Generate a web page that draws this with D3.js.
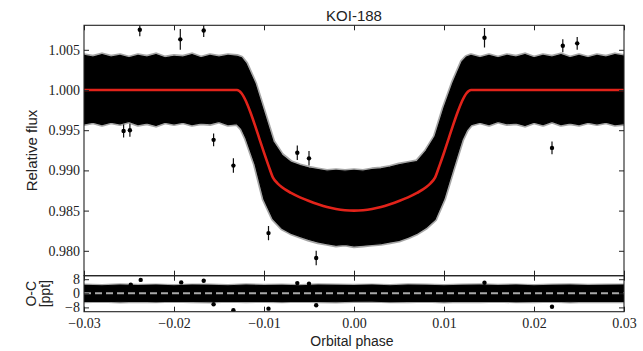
<!DOCTYPE html>
<html><head><meta charset="utf-8">
<script src="https://cdn.jsdelivr.net/npm/d3@7"></script>
<style>body{margin:0;background:#fff}svg{display:block}</style>
</head><body>
<script>
// ---------- data ----------
const title = "KOI-188";
const xTicks = [-0.03, -0.02, -0.01, 0.00, 0.01, 0.02, 0.03];
const yTicks = [0.980, 0.985, 0.990, 0.995, 1.000, 1.005];
const resTicks = [-8, 0, 8];

// envelope of the dense black band of measurements (relative flux)
const envPhase = [-0.030,-0.029,-0.028,-0.027,-0.026,-0.025,-0.024,-0.023,-0.022,-0.021,-0.020,-0.019,-0.018,-0.017,-0.016,-0.015,-0.014,-0.013,
  -0.0125,-0.012,-0.011,-0.010,-0.009,-0.008,-0.007,-0.006,-0.005,-0.004,-0.003,-0.002,-0.001,0,0.001,0.002,0.003,0.004,0.005,0.006,0.007,0.008,0.009,0.010,0.011,0.012,0.0125,
  0.013,0.014,0.015,0.016,0.017,0.018,0.019,0.020,0.021,0.022,0.023,0.024,0.025,0.026,0.027,0.028,0.029,0.030];
const envUpper = [1.0043,1.0041,1.0044,1.0041,1.0043,1.0040,1.0043,1.0041,1.0044,1.0040,1.0042,1.0041,1.0044,1.0040,1.0043,1.0041,1.0043,1.0042,
  1.0040,1.0033,1.0008,0.9972,0.9936,0.9919,0.9910,0.9906,0.9903,0.9901,0.9899,0.9900,0.9899,0.9900,0.9899,0.9901,0.9902,0.9904,0.9907,0.9909,0.9911,0.9924,0.9942,0.9978,1.0009,1.0035,1.0041,
  1.0043,1.0040,1.0043,1.0040,1.0043,1.0041,1.0044,1.0040,1.0043,1.0041,1.0044,1.0040,1.0043,1.0040,1.0043,1.0041,1.0044,1.0042];
const envLower = [0.9958,0.9960,0.9957,0.9960,0.9958,0.9961,0.9957,0.9959,0.9956,0.9960,0.9958,0.9960,0.9957,0.9959,0.9958,0.9961,0.9957,0.9958,
  0.9952,0.9940,0.9908,0.9864,0.9840,0.9828,0.9822,0.9818,0.9814,0.9811,0.9809,0.9807,0.9808,0.9806,0.9807,0.9808,0.9809,0.9811,0.9813,0.9817,0.9822,0.9829,0.9839,0.9865,0.9902,0.9938,0.9950,
  0.9957,0.9960,0.9957,0.9961,0.9958,0.9959,0.9956,0.9960,0.9957,0.9961,0.9957,0.9959,0.9957,0.9960,0.9958,0.9960,0.9957,0.9958];

// isolated points with error bars
const outPhase = [-0.0256,-0.0249,-0.0238,-0.0193,-0.0167,-0.0156,-0.0134,-0.0095,-0.0063,-0.0050,-0.0042,0.0145,0.0220,0.0232,0.0248];
const outFlux  = [0.9949,0.9950,1.0075,1.0063,1.0074,0.9938,0.9906,0.9822,0.9922,0.9915,0.9791,1.0065,0.9928,1.0055,1.0058];
const outErr   = [0.0008,0.0008,0.0008,0.0013,0.0008,0.0008,0.0009,0.0009,0.0009,0.0009,0.0009,0.0012,0.0008,0.0008,0.0008];

// transit model (red)
const modelPhase = [-0.030,-0.0130,-0.0125,-0.0120,-0.0115,-0.0110,-0.0105,-0.0100,-0.0095,-0.0090,-0.0085,-0.0080,-0.0070,-0.0060,-0.0050,-0.0040,-0.0030,-0.0020,-0.0010,0,
  0.0010,0.0020,0.0030,0.0040,0.0050,0.0060,0.0070,0.0080,0.0085,0.0090,0.0095,0.0100,0.0105,0.0110,0.0115,0.0120,0.0125,0.0130,0.030];
const modelFlux = [1.0000,1.0000,0.9996,0.9986,0.9972,0.9956,0.9939,0.9922,0.9906,0.9891,0.9884,0.9879,0.9872,0.98665,0.9862,0.9858,0.98545,0.9852,0.98505,0.9850,
  0.98505,0.9852,0.98545,0.9858,0.9862,0.98665,0.9872,0.9879,0.9884,0.9891,0.9906,0.9922,0.9939,0.9956,0.9972,0.9986,0.9996,1.0000,1.0000];

// residual band (ppt)
const resEnvPhase = [-0.030,-0.028,-0.026,-0.024,-0.022,-0.020,-0.018,-0.016,-0.014,-0.012,-0.010,-0.008,-0.006,-0.004,-0.002,0,0.002,0.004,0.006,0.008,0.010,0.012,0.014,0.016,0.018,0.020,0.022,0.024,0.026,0.028,0.030];
const resUpper = [4.5,4.3,4.7,4.4,4.6,4.3,4.6,4.5,4.3,4.7,4.4,4.5,4.3,4.7,4.5,4.4,4.6,4.3,4.7,4.5,4.3,4.5,4.7,4.4,4.6,4.3,4.5,4.7,4.4,4.5,4.6];
const resLower = [-4.6,-4.4,-4.8,-4.5,-4.7,-4.4,-4.6,-4.8,-4.4,-4.6,-4.5,-4.7,-4.4,-4.6,-4.8,-4.5,-4.4,-4.7,-4.6,-4.4,-4.8,-4.5,-4.6,-4.4,-4.7,-4.6,-4.4,-4.8,-4.5,-4.6,-4.6];
const resOutPhase = [-0.0248,-0.0237,-0.0192,-0.0167,-0.0156,-0.0134,-0.0095,-0.0063,-0.0050,-0.0042,0.0145,0.0220];
const resOutVal   = [4.9,7.6,6.2,7.1,-6.2,-9.6,-8.7,5.8,5.4,-6.8,6.0,-7.6];

// ---------- drawing ----------
const W = 643, H = 351;
const L = 84, R = 624, T1 = 25.3, B1 = 275.7, T2 = 275.7, B2 = 311.7;
const svg = d3.select("body").append("svg").attr("width", W).attr("height", H);

const x = d3.scaleLinear().domain([-0.03, 0.03]).range([L, R]);
const y = d3.scaleLinear().domain([0.976903, 1.008047]).range([B1, T1]);
const yr = d3.scaleLinear().domain([-10.44, 9.99]).range([B2, T2]);

const defs = svg.append("defs");
defs.append("clipPath").attr("id", "c1").append("rect").attr("x", L).attr("y", T1).attr("width", R - L).attr("height", B1 - T1);
defs.append("clipPath").attr("id", "c2").append("rect").attr("x", L).attr("y", T2).attr("width", R - L).attr("height", B2 - T2);

const g1 = svg.append("g").attr("clip-path", "url(#c1)");
const band = envPhase.map((p, i) => ({p, u: envUpper[i], l: envLower[i]}));
const bandArea = d3.area().x(d => x(d.p)).y0(d => y(d.l)).y1(d => y(d.u));
// soft fuzzy edge from error-bar tips
g1.append("path").datum(band).attr("d", bandArea)
  .attr("fill", "none").attr("stroke", "#000").attr("stroke-opacity", 0.35).attr("stroke-width", 4.5)
  .attr("stroke-linejoin", "round");
g1.append("path").datum(band).attr("d", bandArea)
  .attr("fill", "#000").attr("stroke", "#000").attr("stroke-width", 1.2);

const outs = outPhase.map((p, i) => ({p, f: outFlux[i], e: outErr[i]}));
g1.selectAll("line.eb").data(outs).join("line").attr("class", "eb")
  .attr("x1", d => x(d.p)).attr("x2", d => x(d.p))
  .attr("y1", d => y(d.f - d.e)).attr("y2", d => y(d.f + d.e))
  .attr("stroke", "#111").attr("stroke-width", 1.2);
g1.selectAll("circle.pt").data(outs).join("circle").attr("class", "pt")
  .attr("cx", d => x(d.p)).attr("cy", d => y(d.f)).attr("r", 2.2).attr("fill", "#000");

const model = modelPhase.map((p, i) => ({p, f: modelFlux[i]}));
g1.append("path").datum(model)
  .attr("d", d3.line().x(d => x(d.p)).y(d => y(d.f)).curve(d3.curveMonotoneX))
  .attr("fill", "none").attr("stroke", "#e2231a").attr("stroke-width", 2.6);

// residual panel
const g2 = svg.append("g").attr("clip-path", "url(#c2)");
const rband = resEnvPhase.map((p, i) => ({p, u: resUpper[i], l: resLower[i]}));
const rArea = d3.area().x(d => x(d.p)).y0(d => yr(d.l)).y1(d => yr(d.u));
g2.append("path").datum(rband).attr("d", rArea)
  .attr("fill", "none").attr("stroke", "#000").attr("stroke-opacity", 0.35).attr("stroke-width", 3.5)
  .attr("stroke-linejoin", "round");
g2.append("path").datum(rband).attr("d", rArea)
  .attr("fill", "#000").attr("stroke", "#000").attr("stroke-width", 1.2);
g2.selectAll("circle.rp").data(resOutPhase.map((p, i) => ({p, v: resOutVal[i]}))).join("circle").attr("class", "rp")
  .attr("cx", d => x(d.p)).attr("cy", d => yr(d.v)).attr("r", 2.2).attr("fill", "#000");
g2.append("line").attr("x1", L).attr("x2", R).attr("y1", yr(0)).attr("y2", yr(0))
  .attr("stroke", "#a8a8a8").attr("stroke-width", 2).attr("stroke-dasharray", "7,4");

// axes
const serif = "'Liberation Serif','Times New Roman',serif";
const sans = "'Liberation Sans',Arial,Helvetica,sans-serif";
function style(g, labels) {
  g.select(".domain").remove();
  g.selectAll(".tick line").attr("stroke", "#222").attr("stroke-width", 1);
  g.selectAll(".tick text").attr("font-family", serif).attr("font-size", 14).attr("fill", "#222");
  if (!labels) g.selectAll(".tick text").remove();
}
const fmt3 = d3.format(".3f"), fmt2 = d3.format(".2f");
style(svg.append("g").attr("transform", `translate(${L},0)`).call(d3.axisLeft(y).tickValues(yTicks).tickFormat(fmt3).tickSize(-5).tickPadding(4)), true);
style(svg.append("g").attr("transform", `translate(${R},0)`).call(d3.axisRight(y).tickValues(yTicks).tickSize(-5)), false);
style(svg.append("g").attr("transform", `translate(0,${T1})`).call(d3.axisTop(x).tickValues(xTicks).tickSize(-5)), false);
style(svg.append("g").attr("transform", `translate(0,${B1})`).call(d3.axisBottom(x).tickValues(xTicks).tickSize(-5)), false);
style(svg.append("g").attr("transform", `translate(${L},0)`).call(d3.axisLeft(yr).tickValues(resTicks).tickFormat(d3.format("d")).tickSize(-5).tickPadding(4)), true);
style(svg.append("g").attr("transform", `translate(${R},0)`).call(d3.axisRight(yr).tickValues(resTicks).tickSize(-5)), false);
style(svg.append("g").attr("transform", `translate(0,${T2})`).call(d3.axisTop(x).tickValues(xTicks).tickSize(-5)), false);
style(svg.append("g").attr("transform", `translate(0,${B2})`).call(d3.axisBottom(x).tickValues(xTicks).tickFormat(fmt2).tickSize(-5).tickPadding(6)), true);

// frames
svg.append("rect").attr("x", L).attr("y", T1).attr("width", R - L).attr("height", B1 - T1)
  .attr("fill", "none").attr("stroke", "#222").attr("stroke-width", 1.1);
svg.append("rect").attr("x", L).attr("y", T2).attr("width", R - L).attr("height", B2 - T2)
  .attr("fill", "none").attr("stroke", "#222").attr("stroke-width", 1.1);

// texts
svg.append("text").attr("x", (L + R) / 2).attr("y", 20.5).attr("text-anchor", "middle")
  .attr("font-family", sans).attr("font-size", 15).attr("fill", "#222").text(title);
svg.append("text").attr("x", (L + R) / 2 - 2).attr("y", 346).attr("text-anchor", "middle")
  .attr("font-family", sans).attr("font-size", 14).attr("fill", "#222").text("Orbital phase");
svg.append("text").attr("transform", `translate(37,${(T1 + B1) / 2}) rotate(-90)`).attr("text-anchor", "middle")
  .attr("font-family", sans).attr("font-size", 15).attr("fill", "#222").text("Relative flux");
svg.append("text").attr("transform", `translate(36,${(T2 + B2) / 2}) rotate(-90)`).attr("text-anchor", "middle")
  .attr("font-family", sans).attr("font-size", 14).attr("fill", "#222").text("O-C");
svg.append("text").attr("transform", `translate(50,${(T2 + B2) / 2}) rotate(-90)`).attr("text-anchor", "middle")
  .attr("font-family", sans).attr("font-size", 14).attr("fill", "#222").text("[ppt]");
</script>
</body></html>
